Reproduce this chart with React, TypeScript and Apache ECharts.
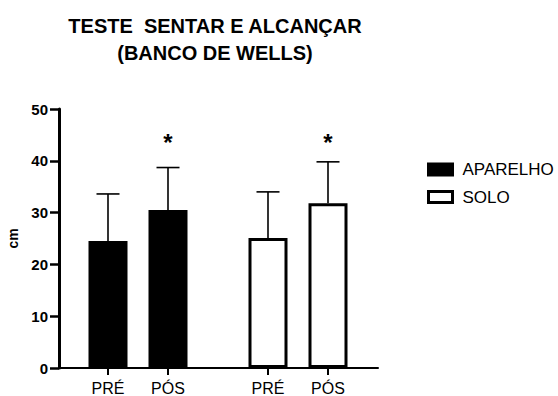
import React, { useEffect, useRef } from 'react';
import * as echarts from 'echarts';

const FONT = '"Liberation Sans", Arial, Helvetica, sans-serif';

const titleLines = ['TESTE  SENTAR E ALCANÇAR', '(BANCO DE WELLS)'];
const yAxisName = 'cm';
const phaseLabels = ['PRÉ', 'PÓS'];
const groupNames = ['APARELHO', 'SOLO'];

// means and standard deviations (cm)
const aparelhoMean = [24.5, 30.5];
const aparelhoSD = [9.1, 8.2];
const soloMean = [25.1, 31.8];
const soloSD = [8.9, 8.0];
const significant = [false, true];

const yMin = 0;
const yMax = 50;
const yInterval = 10;

// x slots of each bar on the (hidden-unit) value axis
const aparelhoSlots = [3, 6];
const soloSlots = [11, 14];
const xMin = 0.55;
const xMax = 16.5;
const STAR_LEVEL = 43.5;

export default function App() {
  const ref = useRef<HTMLDivElement>(null);

  useEffect(() => {
    document.body.style.margin = '0';
    if (!ref.current) return;
    const chart = echarts.init(ref.current, undefined, { renderer: 'svg' });

    const allSlots = [...aparelhoSlots, ...soloSlots];
    const slotLabel: Record<number, string> = {};
    aparelhoSlots.forEach((s, i) => (slotLabel[s] = phaseLabels[i]));
    soloSlots.forEach((s, i) => (slotLabel[s] = phaseLabels[i]));

    const errData = [
      ...aparelhoMean.map((m, i) => [aparelhoSlots[i], m, aparelhoSD[i], significant[i] ? 1 : 0]),
      ...soloMean.map((m, i) => [soloSlots[i], m, soloSD[i], significant[i] ? 1 : 0]),
    ];

    chart.setOption({
      animation: false,
      backgroundColor: '#fff',
      title: {
        text: titleLines.join('\n'),
        left: 210,
        top: 7,
        textAlign: 'center',
        textStyle: {
          fontFamily: FONT,
          fontSize: 20,
          fontWeight: 'bold',
          color: '#000',
          lineHeight: 27,
        },
      },
      legend: {
        orient: 'vertical',
        left: 422,
        top: 156,
        itemWidth: 24,
        itemHeight: 11,
        itemGap: 10.5,
        icon: 'rect',
        textStyle: {
          fontFamily: FONT,
          fontSize: 17,
          color: '#000',
          lineHeight: 16,
          padding: [0, 0, 0, 5],
        },
        data: [
          { name: groupNames[0], itemStyle: { color: '#000', borderColor: '#000', borderWidth: 3 } },
          { name: groupNames[1], itemStyle: { color: '#fff', borderColor: '#000', borderWidth: 3 } },
        ],
      },
      grid: {
        left: 59,
        right: 180,
        top: 109,
        bottom: 28,
        containLabel: false,
        outerBoundsMode: 'none',
      },
      xAxis: {
        type: 'value',
        min: xMin,
        max: xMax,
        splitLine: { show: false },
        axisLine: { show: true, lineStyle: { color: '#000', width: 2 } },
        axisTick: {
          show: true,
          customValues: allSlots,
          length: 7,
          lineStyle: { color: '#000', width: 2 },
        },
        axisLabel: {
          customValues: allSlots,
          formatter: (v: number) => slotLabel[v] ?? '',
          fontFamily: FONT,
          fontSize: 16,
          color: '#000',
          margin: 12,
        },
      },
      yAxis: {
        type: 'value',
        min: yMin,
        max: yMax,
        interval: yInterval,
        name: yAxisName,
        nameLocation: 'middle',
        nameGap: 35,
        nameTextStyle: { fontFamily: FONT, fontSize: 14, fontWeight: 'bold', color: '#000' },
        splitLine: { show: false },
        axisLine: { show: true, lineStyle: { color: '#000', width: 3 } },
        axisTick: { show: true, length: 9, lineStyle: { color: '#000', width: 2.5 } },
        axisLabel: {
          fontFamily: FONT,
          fontSize: 15,
          fontWeight: 'bold',
          color: '#000',
          margin: 11,
        },
      },
      series: [
        {
          name: groupNames[0],
          type: 'bar',
          barWidth: 39,
          barGap: '-100%',
          data: aparelhoMean.map((m, i) => [aparelhoSlots[i], m]),
          itemStyle: { color: '#000', borderColor: '#000', borderWidth: 3 },
        },
        {
          name: groupNames[1],
          type: 'bar',
          barWidth: 39,
          barGap: '-100%',
          data: soloMean.map((m, i) => [soloSlots[i], m]),
          itemStyle: { color: '#fff', borderColor: '#000', borderWidth: 3 },
        },
        {
          name: 'error',
          type: 'custom',
          z: 5,
          encode: { x: 0, y: 1 },
          data: errData,
          renderItem: (params: any, api: any) => {
            const x = api.value(0);
            const m = api.value(1);
            const sd = api.value(2);
            const sig = api.value(3);
            const p0 = api.coord([x, m]);
            const p1 = api.coord([x, m + sd]);
            const children: any[] = [
              {
                type: 'line',
                shape: { x1: p0[0], y1: p0[1], x2: p1[0], y2: p1[1] },
                style: { stroke: '#000', lineWidth: 1.6 },
              },
              {
                type: 'line',
                shape: { x1: p1[0] - 11.5, y1: p1[1], x2: p1[0] + 11.5, y2: p1[1] },
                style: { stroke: '#000', lineWidth: 1.6 },
              },
            ];
            if (sig) {
              const ps = api.coord([x, STAR_LEVEL]);
              children.push({
                type: 'text',
                x: ps[0],
                y: ps[1],
                style: {
                  text: '*',
                  fontFamily: FONT,
                  fontSize: 24,
                  fontWeight: 'bold',
                  fill: '#000',
                  align: 'center',
                  verticalAlign: 'middle',
                },
              });
            }
            return { type: 'group', children };
          },
        },
      ],
    });

    return () => chart.dispose();
  }, []);

  return (
    <div
      ref={ref}
      style={{ width: 558, height: 396, position: 'absolute', left: 0, top: 0 }}
    />
  );
}
